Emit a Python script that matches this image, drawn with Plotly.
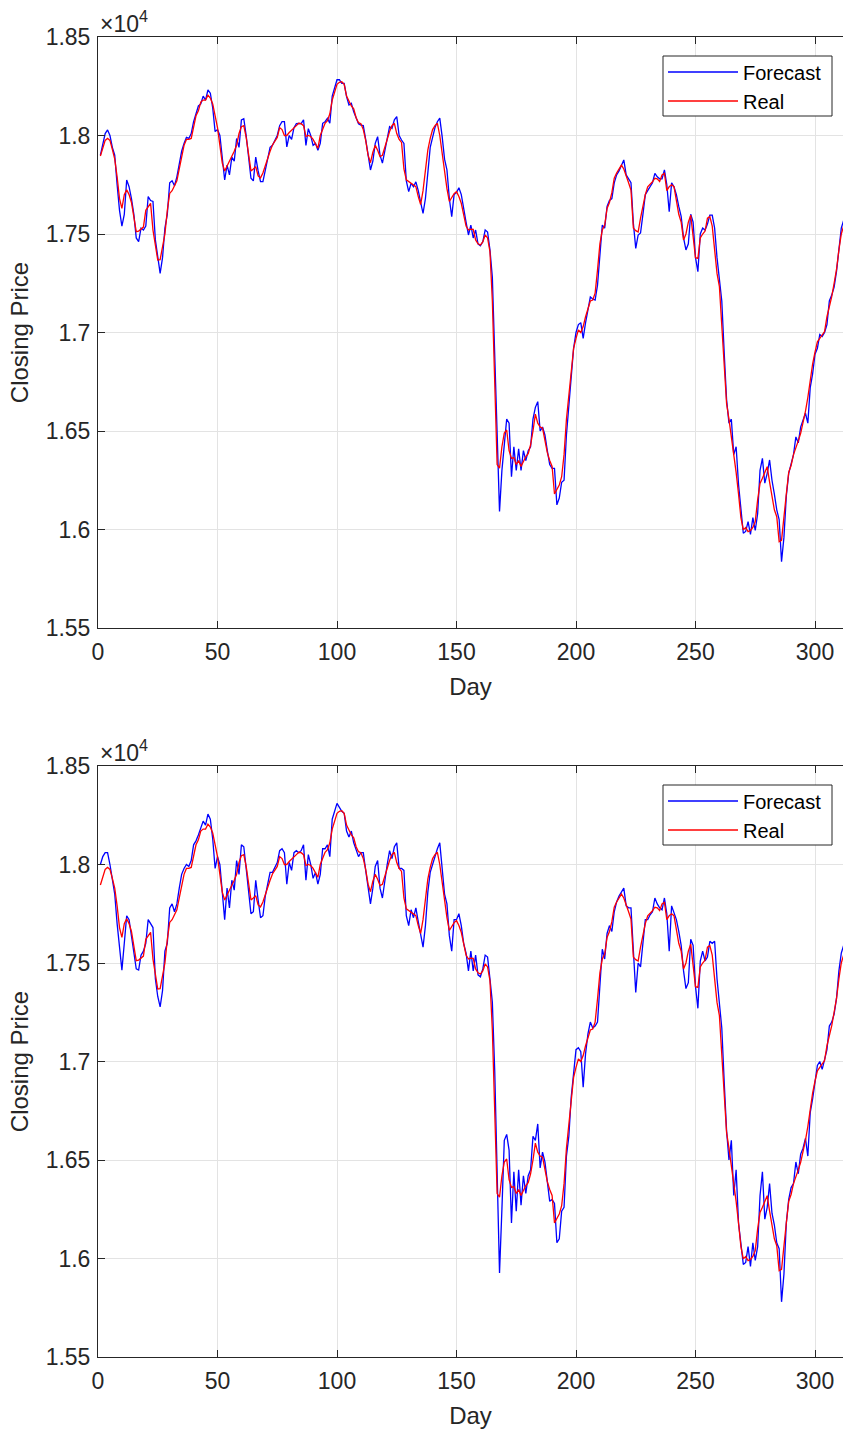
import plotly.graph_objects as go

# Closing price, real vs forecast (days 1..313)
real = [
    17896, 17940, 17975, 17986, 17975, 17930, 17880, 17790, 17680, 17630,
    17700, 17725, 17700, 17660, 17580, 17512, 17515, 17525, 17535, 17620,
    17640, 17656, 17520, 17444, 17368, 17370, 17430, 17500, 17620, 17706,
    17720, 17750, 17770, 17830, 17890, 17950, 17980, 17980, 17985, 18050,
    18100, 18125, 18170, 18180, 18180, 18205, 18190, 18160, 18100, 18040,
    17950, 17860, 17820, 17845, 17870, 17890, 17920, 17950, 18010, 18045,
    18050, 17990, 17890, 17820, 17830, 17842, 17795, 17785, 17810, 17850,
    17880, 17920, 17952, 17975, 17990, 18040, 18030, 18000, 18000, 18015,
    18025, 18040, 18050, 18062, 18060, 18050, 17995, 18000, 17995, 17980,
    17960, 17935, 18000, 18035, 18062, 18075, 18110, 18180, 18225, 18260,
    18270, 18273, 18260, 18200, 18175, 18150, 18135, 18090, 18065, 18060,
    18030, 17975, 17900, 17862, 17915, 17950, 17925, 17893, 17900, 17940,
    17985, 18020, 18050, 18062, 18010, 17980, 17965, 17830, 17775, 17766,
    17755, 17745, 17740, 17690, 17650, 17720, 17840, 17926, 17985, 18030,
    18050, 18062, 18000, 17910, 17800, 17730, 17665, 17685, 17705, 17715,
    17690, 17656, 17600, 17540, 17520, 17525, 17524, 17470, 17450, 17444,
    17460, 17495, 17480, 17410, 17160, 16780, 16330, 16311, 16420, 16490,
    16505, 16400, 16361, 16365, 16330, 16350, 16320, 16345, 16370, 16385,
    16430, 16500, 16586, 16540, 16520, 16515, 16450, 16390, 16350, 16320,
    16180, 16200, 16226, 16268, 16380, 16560, 16680, 16820, 16920, 16970,
    17013, 17000, 17030, 17080, 17120, 17160, 17165, 17200, 17317, 17450,
    17520, 17545, 17630, 17660, 17710, 17783, 17810, 17830, 17850, 17830,
    17800, 17760, 17723, 17530, 17517, 17510, 17580, 17640, 17700, 17740,
    17752, 17765, 17783, 17780, 17766, 17800, 17808, 17720, 17740, 17750,
    17740, 17660, 17600, 17560, 17470, 17500, 17560, 17596, 17500, 17380,
    17376, 17480, 17500, 17515, 17580, 17588, 17540, 17420, 17300, 17233,
    17030, 16800, 16640, 16560, 16470, 16400, 16290, 16180, 16060, 15998,
    16010, 15989, 15995, 16010, 16040, 16150, 16234, 16260, 16290, 16319,
    16240, 16160, 16100, 16065, 15938, 15945, 16048, 16180, 16290, 16325,
    16380, 16410, 16450, 16488, 16540, 16600, 16670, 16760, 16840, 16900,
    16953, 16970, 16990, 17005, 17080, 17130, 17182, 17250, 17320, 17419,
    17500, 17540, 17580,
]

# Forecast shown in the upper panel
forecast_a = [
    17900, 17960, 18010, 18028, 18000, 17940, 17900, 17750, 17620, 17540,
    17600, 17774, 17740, 17680, 17600, 17480, 17461, 17530, 17520, 17540,
    17690, 17670, 17665, 17470, 17380, 17300, 17380, 17530, 17600, 17760,
    17770, 17745, 17790, 17850, 17920, 17960, 17990, 17985, 18010, 18070,
    18110, 18150, 18160, 18200, 18180, 18231, 18215, 18140, 18020, 18030,
    18000, 17880, 17774, 17850, 17800, 17890, 17870, 17985, 17940, 18079,
    18085, 18000, 17900, 17783, 17770, 17890, 17820, 17766, 17766, 17830,
    17880, 17940, 17950, 17980, 18000, 18050, 18070, 18070, 17942, 18000,
    17980, 18040, 18060, 18062, 18060, 18080, 17950, 18035, 18000, 17950,
    17960, 17925, 17960, 18062, 18070, 18087, 18062, 18200, 18240, 18283,
    18283, 18265, 18265, 18197, 18155, 18163, 18120, 18087, 18060, 18053,
    18050, 17980, 17900, 17825, 17870, 17960, 17994, 17900, 17860, 17918,
    17980, 18045, 18036, 18080, 18096, 18000, 17977, 17960, 17770, 17715,
    17757, 17740, 17765, 17720, 17660, 17605, 17680, 17825, 17940, 17990,
    18040, 18070, 18088, 17994, 17880, 17825, 17680, 17588, 17700, 17710,
    17735, 17700, 17620, 17560, 17495, 17545, 17480, 17520, 17450, 17440,
    17460, 17520, 17510, 17420, 17280, 16900, 16450, 16091, 16300, 16450,
    16560, 16540, 16268, 16420, 16300, 16410, 16300, 16400, 16350, 16400,
    16420, 16560, 16620, 16649, 16500, 16520, 16480, 16400, 16330, 16310,
    16310, 16125, 16160, 16240, 16250, 16480, 16620, 16800, 16920, 17000,
    17040, 17050, 16970, 17050, 17120, 17180, 17170, 17165, 17240, 17400,
    17545, 17530, 17640, 17670, 17680, 17760, 17800, 17820, 17850, 17876,
    17800, 17780, 17760, 17555, 17427, 17495, 17505, 17600, 17700, 17720,
    17740, 17760, 17808, 17790, 17780, 17780, 17825, 17750, 17613, 17760,
    17740, 17700, 17640, 17590, 17480, 17419, 17450, 17600, 17560, 17380,
    17309, 17500, 17530, 17520, 17550, 17596, 17596, 17530, 17380, 17270,
    17160, 16900, 16660, 16540, 16560, 16380, 16420, 16230, 16110, 15981,
    15990, 16040, 15975, 16060, 15995, 16080, 16300, 16361, 16235, 16285,
    16353, 16250, 16180, 16100, 16050, 15837, 15960, 16170, 16285, 16335,
    16380, 16470, 16440, 16520, 16550, 16590, 16540, 16720, 16790, 16890,
    16920, 16990, 16980, 17000, 17040, 17160, 17190, 17230, 17310, 17440,
    17530, 17570, 17610,
]

# Forecast shown in the lower panel
forecast_b = [
    18000, 18040, 18060, 18060, 18000, 17930, 17850, 17700, 17560, 17464,
    17600, 17740, 17720, 17640, 17560, 17470, 17464, 17540, 17560, 17600,
    17720, 17700, 17680, 17420, 17330, 17277, 17360, 17560, 17600, 17780,
    17800, 17760, 17800, 17880, 17950, 17980, 18000, 17990, 18020, 18100,
    18120, 18150, 18180, 18220, 18200, 18256, 18230, 18130, 17980, 18040,
    18000, 17850, 17720, 17880, 17780, 17920, 17870, 18020, 17950, 18100,
    18090, 17980, 17880, 17750, 17760, 17920, 17820, 17730, 17740, 17840,
    17900, 17960, 17960, 17990, 18010, 18070, 18080, 18060, 17900, 18010,
    17970, 18060, 18070, 18060, 18070, 18100, 17920, 18050, 18000, 17930,
    17960, 17900, 17950, 18080, 18080, 18100, 18040, 18230, 18270, 18310,
    18290, 18270, 18260, 18170, 18140, 18170, 18110, 18080, 18040, 18060,
    18060, 17970, 17880, 17800, 17880, 17990, 18020, 17880, 17830, 17920,
    18000, 18070, 18030, 18090, 18110, 17980, 17980, 17970, 17740, 17690,
    17770, 17730, 17780, 17710, 17640, 17580, 17690, 17860, 17960, 18000,
    18050, 18080, 18110, 17980, 17850, 17800, 17640, 17560, 17720, 17720,
    17750, 17690, 17600, 17550, 17460, 17560, 17460, 17540, 17440, 17430,
    17470, 17540, 17530, 17420, 17300, 16950, 16500, 15927, 16250, 16600,
    16630, 16550, 16180, 16440, 16240, 16450, 16270, 16420, 16330, 16420,
    16450, 16620, 16600, 16683, 16460, 16540, 16490, 16380, 16290, 16300,
    16280, 16080, 16100, 16240, 16260, 16520, 16620, 16820, 16940, 17060,
    17070, 17050, 16870, 17040, 17140, 17200, 17170, 17180, 17200, 17380,
    17570, 17520, 17650, 17690, 17660, 17760, 17810, 17840, 17860, 17880,
    17790, 17780, 17780, 17560, 17350, 17500, 17480, 17600, 17720, 17720,
    17745, 17760, 17830, 17800, 17780, 17770, 17830, 17750, 17560, 17790,
    17760, 17720, 17660, 17590, 17460, 17370, 17400, 17620, 17590, 17380,
    17270, 17510, 17560, 17510, 17530, 17610, 17600, 17610, 17420, 17280,
    17170, 16900, 16650, 16500, 16600, 16320, 16450, 16180, 16080, 15970,
    15980, 16060, 15960, 16080, 15990, 16060, 16320, 16440, 16200, 16260,
    16380, 16230, 16170, 16080, 16050, 15780, 15920, 16180, 16300, 16360,
    16380, 16490, 16430, 16530, 16560, 16610, 16520, 16740, 16810, 16900,
    16980, 17000, 16960, 17010, 17060, 17180, 17200, 17240, 17320, 17460,
    17550, 17590, 17630,
]

days = list(range(1, len(real) + 1))

tick_vals = [15500, 16000, 16500, 17000, 17500, 18000, 18500]
tick_text = ["1.55", "1.6", "1.65", "1.7", "1.75", "1.8", "1.85"]
x_ticks = [0, 50, 100, 150, 200, 250, 300]

FONT = "Liberation Sans, Arial, Helvetica, sans-serif"
INK = "#262626"
GRID = "#e3e3e3"

fig = go.Figure()

panels = [(forecast_a, "x", "y", "legend"), (forecast_b, "x2", "y2", "legend2")]
for fc, xa, ya, lg in panels:
    fig.add_trace(go.Scatter(x=days, y=fc, mode="lines", name="Forecast",
                             line=dict(color="#0000ff", width=1.3),
                             xaxis=xa, yaxis=ya, legend=lg))
    fig.add_trace(go.Scatter(x=days, y=real, mode="lines", name="Real",
                             line=dict(color="#ff0000", width=1.3),
                             xaxis=xa, yaxis=ya, legend=lg))

W, H = 843, 1431
L, T, B = 98, 37, 74
plot_w = W - L
plot_h = H - T - B
top_dom = [(1357 - 628) / plot_h, 1.0]
bot_dom = [0.0, (1357 - 766) / plot_h]
x_max = (843 - 98) / 2.39


def px_x(p):
    return (p - L) / plot_w


def px_y(p):
    return (1357 - p) / plot_h


tick_font = dict(family=FONT, size=23, color=INK)
title_font = dict(family=FONT, size=24, color=INK)

xa_style = dict(
    showline=True, linecolor=INK, linewidth=1, mirror="ticks",
    ticks="inside", ticklen=7, tickcolor=INK, tickwidth=1,
    showgrid=True, gridcolor=GRID, gridwidth=1, zeroline=False,
    tickfont=tick_font, ticklabelstandoff=3,
    range=[0, x_max], tickvals=x_ticks,
    title=dict(text="Day", font=title_font, standoff=14),
)
ya_style = dict(
    showline=True, linecolor=INK, linewidth=1, mirror=False,
    ticks="inside", ticklen=7, tickcolor=INK, tickwidth=1,
    showgrid=True, gridcolor=GRID, gridwidth=1, zeroline=False,
    tickfont=tick_font, ticklabelstandoff=2,
    range=[15500, 18500], tickvals=tick_vals, ticktext=tick_text,
    title=dict(text="Closing Price", font=title_font, standoff=10),
)

legend_style = dict(
    xanchor="left", yanchor="top", bgcolor="rgba(0,0,0,0)",
    borderwidth=0, itemwidth=70,
    font=dict(family=FONT, size=20, color="black"),
    tracegroupgap=0,
)

# legend frames (box drawn as a shape, entries laid on top)
boxes = [(56, 116), (785, 845)]
for top, bottom in boxes:
    fig.add_shape(type="rect", xref="paper", yref="paper",
                  x0=px_x(663), x1=px_x(832), y0=px_y(bottom), y1=px_y(top),
                  line=dict(color=INK, width=1), fillcolor="white", layer="above")

fig.update_layout(
    width=W, height=H,
    margin=dict(l=L, r=0, t=T, b=B),
    paper_bgcolor="white", plot_bgcolor="white",
    showlegend=True,
    xaxis=dict(xa_style, domain=[0, 1], anchor="y"),
    yaxis=dict(ya_style, domain=top_dom, anchor="x"),
    xaxis2=dict(xa_style, domain=[0, 1], anchor="y2"),
    yaxis2=dict(ya_style, domain=bot_dom, anchor="x2"),
    legend=dict(legend_style, x=px_x(663), y=px_y(52.5)),
    legend2=dict(legend_style, x=px_x(663), y=px_y(781.5)),
)

for dom in (top_dom, bot_dom):
    fig.add_annotation(
        text="\u00d710<sup>4</sup>", xref="paper", yref="paper",
        x=0.0, y=dom[1], xanchor="left", yanchor="bottom", yshift=-2,
        showarrow=False, font=dict(family=FONT, size=23, color=INK),
    )

fig.write_html("out.html")
